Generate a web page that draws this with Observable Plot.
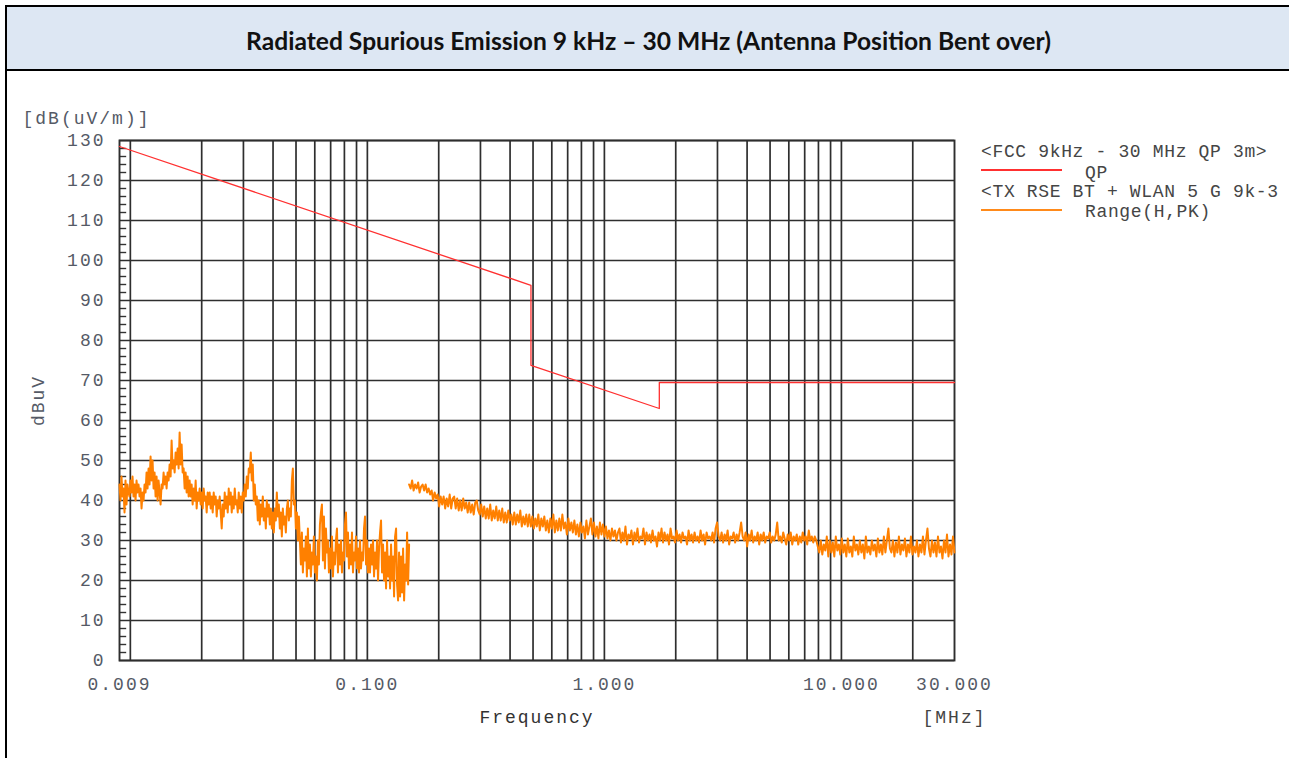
<!DOCTYPE html>
<html><head><meta charset="utf-8">
<script src="https://cdn.jsdelivr.net/npm/d3@7"></script>
<script src="https://cdn.jsdelivr.net/npm/@observablehq/plot@0.6"></script>
<style>
html,body{margin:0;padding:0;background:#fff;overflow:hidden;width:1289px;height:758px;}
#box{position:absolute;left:5px;top:5px;width:1400px;height:800px;border:2px solid #000;box-sizing:border-box;}
#head{position:absolute;left:0;top:0;right:0;height:64px;background:#dde7f3;border-bottom:2px solid #000;box-sizing:border-box;}
#title{position:absolute;left:0;width:1297px;top:31px;text-align:center;font-family:Lato,"Open Sans",sans-serif;font-weight:700;font-size:20px;line-height:20px;color:#111;white-space:nowrap;}
#title span{display:inline-block;}
#chart{position:absolute;left:0;top:72px;}
#legend{position:absolute;left:0;top:0;width:1289px;height:758px;overflow:hidden;pointer-events:none;font-family:"Liberation Mono",monospace;font-size:18px;line-height:18px;letter-spacing:0.65px;color:#454545;}
#legend div{position:absolute;white-space:pre;}
.sw{height:2px;width:81px;left:981px;}
</style>
</head><body>
<div id="box"><div id="head"></div></div>
<div id="title"><span id="tt">Radiated Spurious Emission 9 kHz – 30 MHz (Antenna Position Bent over)</span></div>
<div id="chart"></div>
<div id="legend"></div>
<script>
// ---- data ----
const titleText = "Radiated Spurious Emission 9 kHz – 30 MHz (Antenna Position Bent over)";
const legendNames = ["<FCC 9kHz - 30 MHz QP 3m>", "QP", "<TX RSE BT + WLAN 5 G 9k-3", "Range(H,PK)"];
const seriesColors = ["#ff3030", "#ff8a1a"];

// FCC limit line (MHz, dBuV/m)
const limitFreq = [0.009, 0.49, 0.49, 1.705, 1.705, 30];
const limitLevel = [128.5, 93.8, 73.8, 63.0, 69.5, 69.5];

// measured trace, sweep 1: 9 kHz - 150 kHz
const sweep1 = [0.009, 0.15];
const trace1 = [
44,40,46,41,43,37,45,39,44,42,
41,45,42,46,41,44,40,45,42,44,
41,43,38,42,40,44,42,47,43,48,
44,51,45,50,43,47,41,46,40,45,
42,39,44,43,47,44,46,43,47,45,
49,46,55,48,50,47,52,49,53,48,
57,49,54,47,48,43,47,42,46,41,
45,41,44,39,43,40,45,38,42,40,
43,39,42,38,43,40,41,37,42,39,
42,38,41,37,42,39,41,36,40,38,
41,37,33,39,36,42,38,41,37,43,
39,42,37,41,38,43,39,40,37,42,
38,41,37,42,40,44,41,46,43,48,
47,52,45,49,40,44,39,41,35,40,
34,39,36,41,35,38,33,40,36,39,
34,38,33,37,32,38,35,42,36,39,
33,37,31,38,34,36,32,38,40,35,
38,36,45,48,39,40,33,37,30,36,
30,24,32,22,28,25,31,21,33,23,
29,21,27,24,31,22,26,20,30,24,
34,37,39,25,36,23,33,27,30,22,
28,23,31,21,27,24,30,33,22,29,
24,30,22,27,25,34,37,26,32,23,
29,24,32,22,27,25,31,23,28,22,
30,23,27,25,33,36,24,30,22,28,
22,29,24,30,21,27,23,30,20,28,
32,35,22,29,20,27,18,30,21,26,
18,29,20,26,16,31,33,19,15,27,
16,26,17,28,15,24,20,32,19,29];

// measured trace, sweep 2: 150 kHz - 30 MHz
const sweep2 = [0.15, 30];
const trace2 = [
44,43,45,42.5,44,43,44.5,42,43.5,44,
42.5,44,42,43,41.5,42.5,40,42,40.5,41.5,
38.5,41,39,41,38,40.5,38.5,41.5,38,40.5,
41,38,40.5,37.5,40,37.5,40.5,38,39.5,37,
39.5,37,39,36.5,39.5,40,37.5,36.5,39,36,
38.5,35.5,38,35.5,39,35,37.5,35.5,38.5,35,
37.5,35,38,34.5,37,34.5,37.5,35,36.5,34,
37,34,36.5,34.5,37.5,33.5,36,34,36.5,33.5,
36.5,33.5,36,33,35.5,33.5,36.5,32.5,35.5,33.5,
36,32.5,35,32,35.5,33,36.5,32,35,32.5,
35.5,32.5,36.5,33,34.5,31.5,35.5,32.5,34.5,32,
35,31.5,34,31,34.5,32,33.5,30.5,35,31.5,
33.5,35.5,31.5,34.5,31,33.5,30.5,34.5,31.5,34,
31,33.5,30.5,32.5,30,33,31,32.5,30,32,
33,29.5,32,30,33.5,29,31.5,30.5,32.5,29,
32,30,33,29.5,31,30.5,33,29,32,30,
31.5,29.5,32.5,30,31,28.5,32,30,33,29.5,
32,30,31.5,29,33,30.5,31,29.5,32.5,30,
31.5,29.5,32,30.5,31,29,32.5,30,31.5,29.5,
32,30,31,29.5,32.5,30,31.5,29,32,30.5,
31,30,32,29.5,33,34.5,31,30,32,29.5,
31.5,30,32.5,29,31,30.5,32,29.5,31.5,30,
32,34.5,31,30,32,28.5,31.5,30,32.5,29.5,
31,30,32,29,31.5,30,32,29.5,31,30.5,
32,29.5,31,30,31.5,34.5,30,31,29.5,32,
30.5,29,31.5,30,32,29,31,30,31.5,29,
31,29.5,32,30,31,29,32.5,30,31,29.5,
31,30,28.5,27,30,26.5,29,27.5,31,26,
30,27,29.5,26,31,27.5,29,26.5,30.5,27,
29,26,30.5,27,28.5,26,31,27.5,29,26.5,
30,27,29,25.5,31,27,28.5,26.5,30,27.5,
29,26,30.5,27,29,26.5,31,27,30,33,
28,27,30,26,29.5,27,31,26.5,29,27.5,
30.5,26,29,27,31,26.5,28.5,27,30,26,
29,27,31,26.5,30,33,28,26,30,27,
29.5,26,31,27,28.5,25.5,30,27,31.5,26,
29,26.5,31,27];

// axes
const xDomain = [0.009, 30];
const yDomain = [0, 130];
const xGrid = [0.01,0.02,0.03,0.04,0.05,0.06,0.07,0.08,0.09,0.1,0.2,0.3,0.4,0.5,0.6,0.7,0.8,0.9,1,2,3,4,5,6,7,8,9,10,20];
const yTicks = [0,10,20,30,40,50,60,70,80,90,100,110,120,130];
const yMinor = d3.range(2, 130, 2).filter(v => v % 10 !== 0);
const xLabelVals = [0.009, 0.1, 1, 10, 30];
const xLabelText = ["0.009", "0.100", "1.000", "10.000", "30.000"];
const yUnit = "[dB(uV/m)]";
const yTitle = "dBuV";
const xTitle = "Frequency";
const xUnit = "[MHz]";

// ---- build tables ----
function sweep(range, vals, seg) {
  const n = vals.length, r = range[1] / range[0];
  return vals.map((v, i) => ({f: range[0] * Math.pow(r, i / (n - 1)), v, seg}));
}
const traceData = sweep(sweep1, trace1, 1).concat(sweep(sweep2, trace2, 2));
const limitData = limitFreq.map((f, i) => ({f, v: limitLevel[i]}));

const mono = "'Liberation Mono', monospace";
const lab = "#555a66";
const T = {fontFamily: mono, fontSize: 18, lineAnchor: "middle"};

const plot = Plot.plot({
  width: 1280, height: 686,
  marginLeft: 119, marginRight: 326, marginTop: 68, marginBottom: 98,
  x: {type: "log", domain: xDomain, axis: null},
  y: {domain: yDomain, axis: null},
  style: "font-family: 'Liberation Mono', monospace; font-size: 18px; letter-spacing: 2px; background: transparent; overflow: visible;",
  marks: [
    Plot.ruleX(xGrid, {stroke: "#2e2e2e", strokeWidth: 1.7}),
    Plot.ruleY(yTicks, {stroke: "#2e2e2e", strokeWidth: 1.7}),
    Plot.ruleY(yMinor, {x1: xDomain[0], x2: 0.00965, stroke: "#333", strokeWidth: 1.4}),
    Plot.frame({stroke: "#2e2e2e", strokeWidth: 1.9}),
    Plot.line(limitData, {x: "f", y: "v", stroke: seriesColors[0], strokeWidth: 1.3}),
    Plot.line(traceData, {x: "f", y: "v", z: "seg", stroke: "#ff8000", strokeWidth: 2}),
    Plot.text(yTicks, {...T, frameAnchor: "left", y: d => d, text: d => String(d), textAnchor: "end", dx: -14, fill: lab}),
    Plot.text(xLabelVals, {...T, x: d => d, frameAnchor: "bottom", dy: 24, text: (d, i) => xLabelText[i], textAnchor: "middle", fill: lab}),
    Plot.text([xTitle], {...T, frameAnchor: "bottom", dy: 57, text: d => d, textAnchor: "middle", fill: "#333"}),
    Plot.text([xUnit], {...T, frameAnchor: "bottom-right", dy: 57, text: d => d, textAnchor: "middle", fill: "#444"}),
    Plot.text([yUnit], {...T, frameAnchor: "top-left", dx: -97, dy: -22, text: d => d, textAnchor: "start", fill: lab}),
    Plot.text([yTitle], {...T, frameAnchor: "left", dx: -81, rotate: -90, text: d => d, textAnchor: "middle", fill: lab})
  ]
});
document.getElementById("chart").appendChild(plot);

// ---- legend ----
const leg = document.getElementById("legend");
const items = [
  {text: legendNames[0], left: 981, top: 143},
  {text: legendNames[1], left: 1085, top: 164},
  {text: legendNames[2], left: 981, top: 183},
  {text: legendNames[3], left: 1085, top: 203}
];
items.forEach(it => {
  const d = document.createElement("div");
  d.textContent = it.text; d.style.left = it.left + "px"; d.style.top = it.top + "px";
  leg.appendChild(d);
});
[[169, seriesColors[0]], [209, seriesColors[1]]].forEach(([t, c]) => {
  const d = document.createElement("div");
  d.className = "sw"; d.style.top = t + "px"; d.style.background = c;
  leg.appendChild(d);
});

// fit title to reference width
const tt = document.getElementById("tt");
const w = tt.getBoundingClientRect().width;
if (w > 0) tt.style.fontSize = (20 * 805 / w) + "px";
</script>
</body></html>
